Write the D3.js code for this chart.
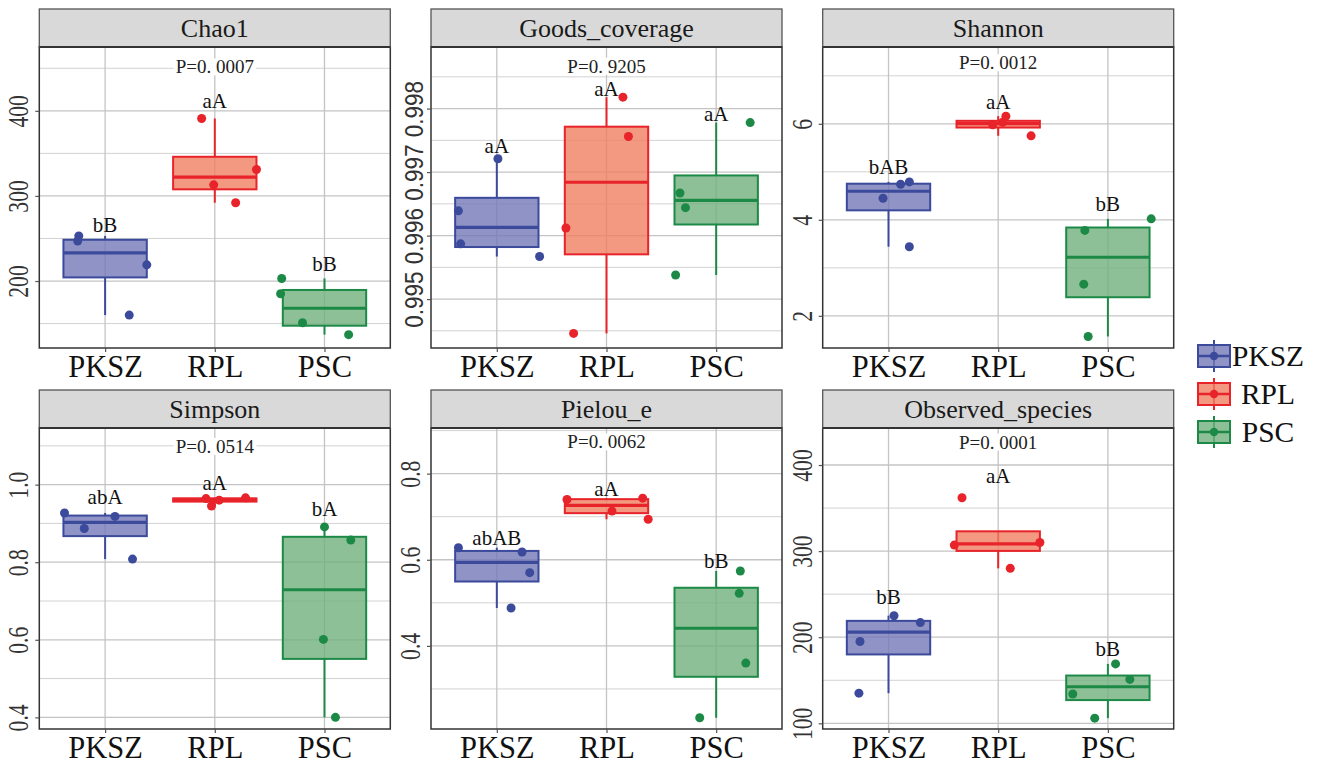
<!DOCTYPE html>
<html>
<head>
<meta charset="utf-8">
<script src="https://cdn.jsdelivr.net/npm/d3@7/dist/d3.min.js"></script>
<style>
  body { margin: 0; background: #ffffff; }
  svg { display: block; }
</style>
</head>
<body>
<svg id="chart" width="1322" height="764"></svg>
<script>
// ---- Data -------------------------------------------------------------
const groups = ["PKSZ", "RPL", "PSC"];
const metricNames = ["Chao1", "Goods_coverage", "Shannon", "Simpson", "Pielou_e", "Observed_species"];
const pLabels = ["P=0. 0007", "P=0. 9205", "P=0. 0012", "P=0. 0514", "P=0. 0062", "P=0. 0001"];
const pLabelY = [451.7, 0.99867, 7.276, 1.099, 0.874, 426.7];
const tickFormats = ["d", ".3f", "d", ".1f", ".1f", "d"];

// sample values per group (PKSZ, RPL, PSC) and horizontal jitter (in category units)
const chao1Values = [[253, 247, 219, 160], [391, 331, 313, 292], [203, 185, 151, 137]];
const chao1Jitter = [[-0.24, -0.25, 0.38, 0.22], [-0.12, 0.38, -0.01, 0.19], [-0.39, -0.40, -0.20, 0.22]];
const chao1Ticks = [200, 300, 400];
const chao1Domain = [121.3, 475];
const chao1Letters = ["bB", "aA", "bB"];
const chao1LetterY = [265.8, 412.5, 220.7];

const goodsValues = [[0.99721, 0.99639, 0.99587, 0.99567], [0.99818, 0.99756, 0.99612, 0.99446], [0.99778, 0.99667, 0.99644, 0.99538]];
const goodsJitter = [[0.01, -0.35, -0.33, 0.39], [0.15, 0.20, -0.37, -0.30], [0.31, -0.33, -0.28, -0.37]];
const goodsTicks = [0.995, 0.996, 0.997, 0.998];
const goodsDomain = [0.99423, 0.99897];
const goodsLetters = ["aA", "aA", "aA"];
const goodsLetterY = [0.99742, 0.99831, 0.99792];

const shannonValues = [[4.79, 4.74, 4.45, 3.44], [6.16, 6.03, 5.98, 5.75], [4.02, 3.78, 2.66, 1.57]];
const shannonJitter = [[0.19, 0.11, -0.05, 0.19], [0.07, 0.04, -0.05, 0.30], [0.395, -0.21, -0.22, -0.18]];
const shannonTicks = [2, 4, 6];
const shannonDomain = [1.33, 7.6];
const shannonLetters = ["bAB", "aA", "bB"];
const shannonLetterY = [5.10, 6.46, 4.33];

const simpsonValues = [[0.927, 0.918, 0.887, 0.808], [0.966, 0.964, 0.960, 0.945], [0.891, 0.857, 0.601, 0.400]];
const simpsonJitter = [[-0.37, 0.09, -0.19, 0.25], [0.28, -0.08, 0.04, -0.03], [0.0, 0.24, -0.01, 0.10]];
const simpsonTicks = [0.4, 0.6, 0.8, 1.0];
const simpsonDomain = [0.37, 1.146];
const simpsonLetters = ["abA", "aA", "bA"];
const simpsonLetterY = [0.968, 1.004, 0.938];

const pielouValues = [[0.628, 0.618, 0.570, 0.488], [0.743, 0.740, 0.713, 0.694], [0.574, 0.522, 0.360, 0.233]];
const pielouJitter = [[-0.35, 0.23, 0.30, 0.13], [0.33, -0.36, 0.05, 0.38], [0.22, 0.21, 0.27, -0.15]];
const pielouTicks = [0.4, 0.6, 0.8];
const pielouDomain = [0.207, 0.906];
const pielouLetters = ["abAB", "aA", "bB"];
const pielouLetterY = [0.651, 0.765, 0.598];

const observedValues = [[225, 217, 195, 135], [362, 310, 307, 280], [169, 151, 134, 106]];
const observedJitter = [[0.05, 0.29, -0.26, -0.27], [-0.33, 0.38, -0.40, 0.11], [0.07, 0.20, -0.32, -0.12]];
const observedTicks = [100, 200, 300, 400];
const observedDomain = [93.4, 443];
const observedLetters = ["bB", "aA", "bB"];
const observedLetterY = [247.7, 387.2, 186.4];

// ---- Styles -----------------------------------------------------------
const strokeColors = ["#3b4a9b", "#e8232a", "#1c8a46"];
const fillColors = ["#7378b6", "#f07f61", "#72b07e"];
const serif = "'Liberation Serif', 'Times New Roman', serif";
const sans = "'Liberation Sans', Arial, sans-serif";

const panels = [
  { name: metricNames[0], values: chao1Values, jitter: chao1Jitter, ticks: chao1Ticks, domain: chao1Domain, letters: chao1Letters, letterY: chao1LetterY },
  { name: metricNames[1], values: goodsValues, jitter: goodsJitter, ticks: goodsTicks, domain: goodsDomain, letters: goodsLetters, letterY: goodsLetterY, sansTicks: true },
  { name: metricNames[2], values: shannonValues, jitter: shannonJitter, ticks: shannonTicks, domain: shannonDomain, letters: shannonLetters, letterY: shannonLetterY },
  { name: metricNames[3], values: simpsonValues, jitter: simpsonJitter, ticks: simpsonTicks, domain: simpsonDomain, letters: simpsonLetters, letterY: simpsonLetterY },
  { name: metricNames[4], values: pielouValues, jitter: pielouJitter, ticks: pielouTicks, domain: pielouDomain, letters: pielouLetters, letterY: pielouLetterY },
  { name: metricNames[5], values: observedValues, jitter: observedJitter, ticks: observedTicks, domain: observedDomain, letters: observedLetters, letterY: observedLetterY }
];
panels.forEach((p, i) => { p.pLabel = pLabels[i]; p.pY = pLabelY[i]; p.fmt = d3.format(tickFormats[i]); });

// ---- Layout -----------------------------------------------------------
const colLeft = [39.3, 431, 822.7];
const stripTop = [9, 390];
const panelW = 351;
const stripH = 38;
const plotH = 301;

const svg = d3.select("#chart");

function boxStats(vals) {
  const s = vals.slice().sort(d3.ascending);
  const q1 = d3.quantile(s, 0.25), med = d3.quantile(s, 0.5), q3 = d3.quantile(s, 0.75);
  const iqr = q3 - q1;
  const lo = d3.min(s.filter(v => v >= q1 - 1.5 * iqr));
  const hi = d3.max(s.filter(v => v <= q3 + 1.5 * iqr));
  return { q1, med, q3, lo, hi };
}

panels.forEach((p, i) => {
  const col = i % 3, row = Math.floor(i / 3);
  const left = colLeft[col];
  const top = stripTop[row] + stripH;
  const g = svg.append("g").attr("transform", `translate(${left},${top})`);

  const x = d3.scalePoint().domain(groups).range([0, panelW]).padding(0.6);
  const step = x.step();
  const y = d3.scaleLinear().domain(p.domain).range([plotH, 0]);

  // minor gridlines halfway between major ticks
  const tstep = p.ticks[1] - p.ticks[0];
  const minor = d3.range(-1, p.ticks.length + 1)
    .map(k => p.ticks[0] + tstep * (k + 0.5))
    .filter(v => v > p.domain[0] && v < p.domain[1]);

  g.append("rect").attr("width", panelW).attr("height", plotH).attr("fill", "#ffffff");
  g.selectAll("line.minor").data(minor).join("line")
    .attr("x1", 0).attr("x2", panelW)
    .attr("y1", d => y(d)).attr("y2", d => y(d))
    .attr("stroke", "#d2d2d2").attr("stroke-width", 1);
  g.selectAll("line.majorY").data(p.ticks).join("line")
    .attr("x1", 0).attr("x2", panelW)
    .attr("y1", d => y(d)).attr("y2", d => y(d))
    .attr("stroke", "#c4c4c4").attr("stroke-width", 1.3);
  g.selectAll("line.majorX").data(groups).join("line")
    .attr("x1", d => x(d)).attr("x2", d => x(d))
    .attr("y1", 0).attr("y2", plotH)
    .attr("stroke", "#c4c4c4").attr("stroke-width", 1.3);

  // P value label on white background
  const pText = g.append("text")
    .attr("x", x(groups[1])).attr("y", y(p.pY)).attr("dy", "0.35em")
    .attr("text-anchor", "middle")
    .attr("font-family", serif).attr("font-size", 19).attr("fill", "#222")
    .text(p.pLabel);
  const bb = pText.node().getBBox();
  g.insert("rect", () => pText.node())
    .attr("x", bb.x - 2).attr("y", bb.y + 2).attr("width", bb.width + 4).attr("height", bb.height - 4)
    .attr("fill", "#ffffff");

  // boxes
  const bw = 0.76 * step;
  groups.forEach((grp, gi) => {
    const st = boxStats(p.values[gi]);
    const cx = x(grp);
    const bg = g.append("g");
    bg.append("line").attr("x1", cx).attr("x2", cx).attr("y1", y(st.hi)).attr("y2", y(st.q3))
      .attr("stroke", strokeColors[gi]).attr("stroke-width", 2);
    bg.append("line").attr("x1", cx).attr("x2", cx).attr("y1", y(st.q1)).attr("y2", y(st.lo))
      .attr("stroke", strokeColors[gi]).attr("stroke-width", 2);
    bg.append("rect").attr("x", cx - bw / 2).attr("width", bw)
      .attr("y", y(st.q3)).attr("height", Math.max(0.5, y(st.q1) - y(st.q3)))
      .attr("fill", fillColors[gi]).attr("fill-opacity", 0.8)
      .attr("stroke", strokeColors[gi]).attr("stroke-width", 2);
    bg.append("line").attr("x1", cx - bw / 2).attr("x2", cx + bw / 2)
      .attr("y1", y(st.med)).attr("y2", y(st.med))
      .attr("stroke", strokeColors[gi]).attr("stroke-width", 3.2);
  });

  // points
  groups.forEach((grp, gi) => {
    g.selectAll(null).data(p.values[gi].map((v, k) => ({ v, j: p.jitter[gi][k] }))).join("circle")
      .attr("cx", d => x(grp) + d.j * step).attr("cy", d => y(d.v)).attr("r", 4.5)
      .attr("fill", strokeColors[gi]);
  });

  // group letters
  g.selectAll("text.letter").data(groups).join("text")
    .attr("x", d => x(d)).attr("y", (d, gi) => y(p.letterY[gi])).attr("dy", "0.35em")
    .attr("text-anchor", "middle")
    .attr("font-family", serif).attr("font-size", 21).attr("fill", "#111")
    .text((d, gi) => p.letters[gi]);

  // panel border
  g.append("rect").attr("width", panelW).attr("height", plotH)
    .attr("fill", "none").attr("stroke", "#333").attr("stroke-width", 1.5);

  // axes
  const yAxis = g.append("g").call(d3.axisLeft(y).tickValues(p.ticks).tickFormat(p.fmt).tickSize(4).tickSizeOuter(0));
  yAxis.select(".domain").remove();
  yAxis.selectAll(".tick line").attr("stroke", "#555").attr("stroke-width", 1.2);
  yAxis.selectAll(".tick text")
    .attr("x", null).attr("dy", null).attr("y", null)
    .attr("text-anchor", "middle")
    .attr("fill", "#333")
    .attr("font-family", p.sansTicks ? sans : serif)
    .attr("font-size", p.sansTicks ? 25 : 28.5)
    .attr("transform", p.sansTicks ? "translate(-8,0) rotate(-90) scale(0.9,1)" : "translate(-11,0) rotate(-90) scale(0.76,1)");

  const xAxis = g.append("g").attr("transform", `translate(0,${plotH})`)
    .call(d3.axisBottom(x).tickSize(4).tickSizeOuter(0));
  xAxis.select(".domain").remove();
  xAxis.selectAll(".tick line").attr("stroke", "#555").attr("stroke-width", 1.2);
  xAxis.selectAll(".tick text")
    .attr("y", 28.5).attr("dy", null)
    .attr("fill", "#111")
    .attr("font-family", serif).attr("font-size", 30.5);

  // strip
  const sg = svg.append("g").attr("transform", `translate(${left},${stripTop[row]})`);
  sg.append("rect").attr("width", panelW).attr("height", stripH)
    .attr("fill", "#d9d9d9").attr("stroke", "#555").attr("stroke-width", 1.3);
  sg.append("line").attr("x1", 0).attr("x2", panelW).attr("y1", stripH).attr("y2", stripH)
    .attr("stroke", "#333").attr("stroke-width", 2);
  sg.append("text").attr("x", panelW / 2).attr("y", 27.5)
    .attr("text-anchor", "middle")
    .attr("font-family", serif).attr("font-size", 26).attr("fill", "#1a1a1a")
    .text(p.name);
});

// ---- Legend -----------------------------------------------------------
const legendY = d3.scalePoint().domain(groups).range([356, 432]);
const leg = svg.append("g");
groups.forEach((grp, gi) => {
  const cy = legendY(grp);
  const kx = 1198, kw = 32, kh = 22;
  const lg = leg.append("g");
  lg.append("line").attr("x1", kx + kw / 2).attr("x2", kx + kw / 2).attr("y1", cy - kh / 2 - 5).attr("y2", cy + kh / 2 + 5)
    .attr("stroke", strokeColors[gi]).attr("stroke-width", 2);
  lg.append("rect").attr("x", kx).attr("y", cy - kh / 2).attr("width", kw).attr("height", kh)
    .attr("fill", fillColors[gi]).attr("fill-opacity", 0.8)
    .attr("stroke", strokeColors[gi]).attr("stroke-width", 2);
  lg.append("line").attr("x1", kx).attr("x2", kx + kw).attr("y1", cy).attr("y2", cy)
    .attr("stroke", strokeColors[gi]).attr("stroke-width", 2.5);
  lg.append("circle").attr("cx", kx + kw / 2).attr("cy", cy).attr("r", 4.2).attr("fill", strokeColors[gi]);
  lg.append("text").attr("x", 1268).attr("y", cy + 10)
    .attr("text-anchor", "middle")
    .attr("font-family", serif).attr("font-size", 29.5).attr("fill", "#111")
    .text(grp);
});
</script>
</body>
</html>
